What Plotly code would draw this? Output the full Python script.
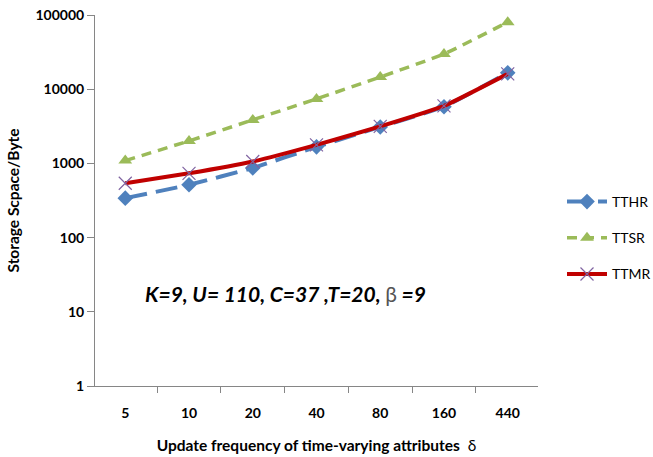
import plotly.graph_objects as go

categories = ["5", "10", "20", "40", "80", "160", "440"]
tthr = [340, 515, 870, 1670, 3100, 5800, 16600]
ttsr = [1090, 2010, 3860, 7400, 14600, 29800, 80000]
ttmr = [540, 735, 1060, 1780, 3150, 5950, 16100]
y_tickvals = [1, 10, 100, 1000, 10000, 100000]
y_ticktext = ["1", "10", "100", "1000", "10000", "100000"]

FONT = "Lato"
W, H = 653, 457
L, R, T, B = 95, 115, 15, 71
pw, ph = W - L - R, H - T - B

def px_x(x):
    return (x - L) / pw

def px_y(y):
    return (H - B - y) / ph

fig = go.Figure()
fig.add_trace(go.Scatter(
    x=categories, y=tthr, name="TTHR", legendgroup="a",
    mode="lines+markers",
    line=dict(color="#4F81BD", width=4, dash="22px,9px", shape="spline", smoothing=0.4),
    marker=dict(symbol="diamond", size=12, color="#4F81BD"),
))
fig.add_trace(go.Scatter(
    x=categories, y=ttsr, name="TTSR", legendgroup="b",
    mode="lines+markers",
    line=dict(color="#9BBB59", width=3.5, dash="10px,7px", shape="spline", smoothing=0.4),
    marker=dict(symbol="triangle-up", size=12, color="#9BBB59"),
))
fig.add_trace(go.Scatter(
    x=categories, y=ttmr, name="TTMR", legendgroup="c",
    mode="lines+markers",
    line=dict(color="#C00000", width=4, shape="spline", smoothing=0.4),
    marker=dict(symbol="x-thin", size=13, color="#8064A2",
                line=dict(width=1.2, color="#8064A2")),
))

fig.update_layout(
    width=W, height=H,
    margin=dict(l=L, r=R, t=T, b=B, autoexpand=False),
    paper_bgcolor="white", plot_bgcolor="white",
    font=dict(family=FONT, size=14, color="#000000"),
    showlegend=True,
    legend=dict(
        x=px_x(562), y=px_y(186), xanchor="left", yanchor="top",
        font=dict(family=FONT, size=14, color="#000000"),
        tracegroupgap=15, itemwidth=40,
        bgcolor="rgba(0,0,0,0)",
    ),
    xaxis=dict(
        type="category", tickson="boundaries", automargin=False,
        showline=True, linecolor="#868686", linewidth=1,
        ticks="outside", ticklen=6, tickcolor="#868686",
        ticklabelstandoff=14,
        showgrid=False, zeroline=False,
        tickfont=dict(family=FONT, size=14, color="#000000", weight="bold"),
        title=dict(text="<b>Update frequency of time-varying attributes</b>  δ",
                   font=dict(family=FONT, size=15.5, color="#000000"), standoff=20),
    ),
    yaxis=dict(
        type="log", range=[0, 5], automargin=False,
        tickvals=y_tickvals, ticktext=y_ticktext,
        showline=True, linecolor="#868686", linewidth=1,
        ticks="outside", ticklen=7, tickcolor="#868686",
        showgrid=False, zeroline=False,
        tickfont=dict(family=FONT, size=14, color="#000000", weight="bold"),
        title=dict(text="<b>Storage Scpace/Byte</b>",
                   font=dict(family=FONT, size=15.5, color="#000000"), standoff=12),
    ),
    annotations=[dict(
        xref="paper", yref="paper", x=px_x(143), y=px_y(293),
        xanchor="left", yanchor="middle", showarrow=False,
        text="<b><i>K=9, U= 110, C=37 ,T=20, </i></b><span style='color:#555555'>β</span><b><i> =9</i></b>",
        font=dict(family=FONT, size=21, color="#000000"),
    )],
)

fig.write_html("out.html")
